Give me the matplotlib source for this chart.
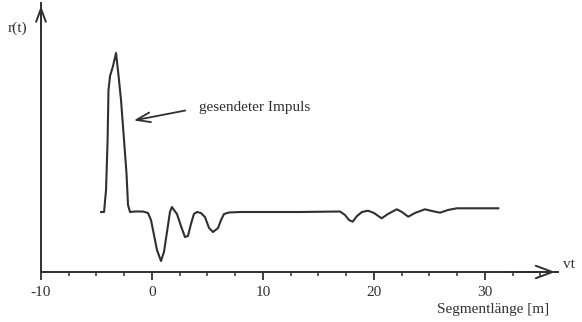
import numpy as np
from matplotlib import pyplot as plt

# Reflexionssignal r(t) ueber der Segmentlaenge
x_m = [-4.59, -4.32, -4.14, -4.0, -3.92, -3.78, -3.51, -3.24, -3.02, -2.79,
       -2.52, -2.30, -2.16, -1.98, -1.53, -0.81, -0.36, -0.09, 0.18, 0.45,
       0.81, 1.08, 1.35, 1.62, 1.80, 1.98, 2.25, 2.61, 2.97, 3.24,
       3.51, 3.78, 4.05, 4.41, 4.77, 5.14, 5.50, 5.95, 6.22, 6.49,
       6.94, 7.93, 13.33, 16.94, 17.39, 17.75, 18.08, 18.47, 18.92, 19.46,
       20.0, 20.69, 21.26, 22.05, 22.52, 23.09, 23.69, 24.59, 25.23, 25.95,
       26.67, 27.45, 29.1, 31.2]
r_t = [6.0, 6.0, 8.2, 13.2, 18.2, 19.6, 20.6, 21.9, 19.7, 17.2,
       13.2, 9.9, 6.7, 6.0, 6.05, 6.05, 5.9, 5.2, 3.7, 2.2,
       1.1, 2.0, 4.0, 6.0, 6.5, 6.2, 5.8, 4.6, 3.5, 3.6,
       4.8, 5.8, 6.0, 5.9, 5.5, 4.4, 4.0, 4.4, 5.2, 5.8,
       5.95, 6.0, 6.0, 6.05, 5.7, 5.2, 5.03, 5.6, 6.0, 6.13,
       5.9, 5.37, 5.8, 6.27, 6.0, 5.53, 5.9, 6.27, 6.1, 5.93,
       6.2, 6.37, 6.37, 6.37]

major_ticks = [-10, 0, 10, 20, 30]
major_labels = ['-10', '0', '10', '20', '30']
minor_ticks = [t for t in np.arange(-10, 36, 2.5) if t not in major_ticks]

W, H = 582, 322
ink = '#303030'
plt.rcParams['font.family'] = ['Liberation Serif', 'DejaVu Serif']

fig = plt.figure(figsize=(W / 100, H / 100), dpi=100)
ax = fig.add_axes([41 / W, 50 / H, 517 / W, 269 / H])
ax.plot(x_m, r_t, color=ink, lw=1.5, solid_joinstyle='round')
ax.set_xlim(-10, 36.58)
ax.set_ylim(0, 26.9)

for s in ['top', 'right']:
    ax.spines[s].set_visible(False)
for s in ['left', 'bottom']:
    ax.spines[s].set_color(ink)
    ax.spines[s].set_linewidth(1.4)

ax.set_yticks([])
ax.set_xticks(major_ticks, labels=major_labels)
ax.set_xticks(minor_ticks, minor=True)
ax.tick_params(axis='x', which='major', direction='out', length=6, width=1.3,
               color=ink, labelsize=11, labelcolor=ink, pad=4)
ax.tick_params(axis='x', which='minor', direction='out', length=3, width=1.1,
               color=ink)

# Pfeilspitzen der Achsen
ax.annotate('', xy=(1, 0), xytext=(0.9, 0), xycoords='axes fraction',
            arrowprops=dict(arrowstyle='->,head_length=1.2,head_width=0.45',
                            color=ink, lw=1.4, mutation_scale=10))
ax.annotate('', xy=(0, 1), xytext=(0, 0.9), xycoords='axes fraction',
            arrowprops=dict(arrowstyle='->,head_length=0.95,head_width=0.35',
                            color=ink, lw=1.4, mutation_scale=10))

# Beschriftung des Impulses
ax.annotate('', xy=(-1.89, 15.1), xytext=(3.24, 16.2),
            arrowprops=dict(arrowstyle='->,head_length=1.0,head_width=0.35',
                            color=ink, lw=1.3, mutation_scale=10))
ax.text(4.23, 16.43, 'gesendeter Impuls', fontsize=11, color=ink,
        ha='left', va='center')

fig.text(8 / W, 1 - 28 / H, 'r(t)', fontsize=11, color=ink,
         ha='left', va='center')
fig.text(563 / W, 1 - 265 / H, 'vt', fontsize=11, color=ink,
         ha='left', va='center')
fig.text(493 / W, 1 - 310 / H, 'Segmentlänge [m]', fontsize=11, color=ink,
         ha='center', va='center')

fig.savefig('out.png', dpi=100)
